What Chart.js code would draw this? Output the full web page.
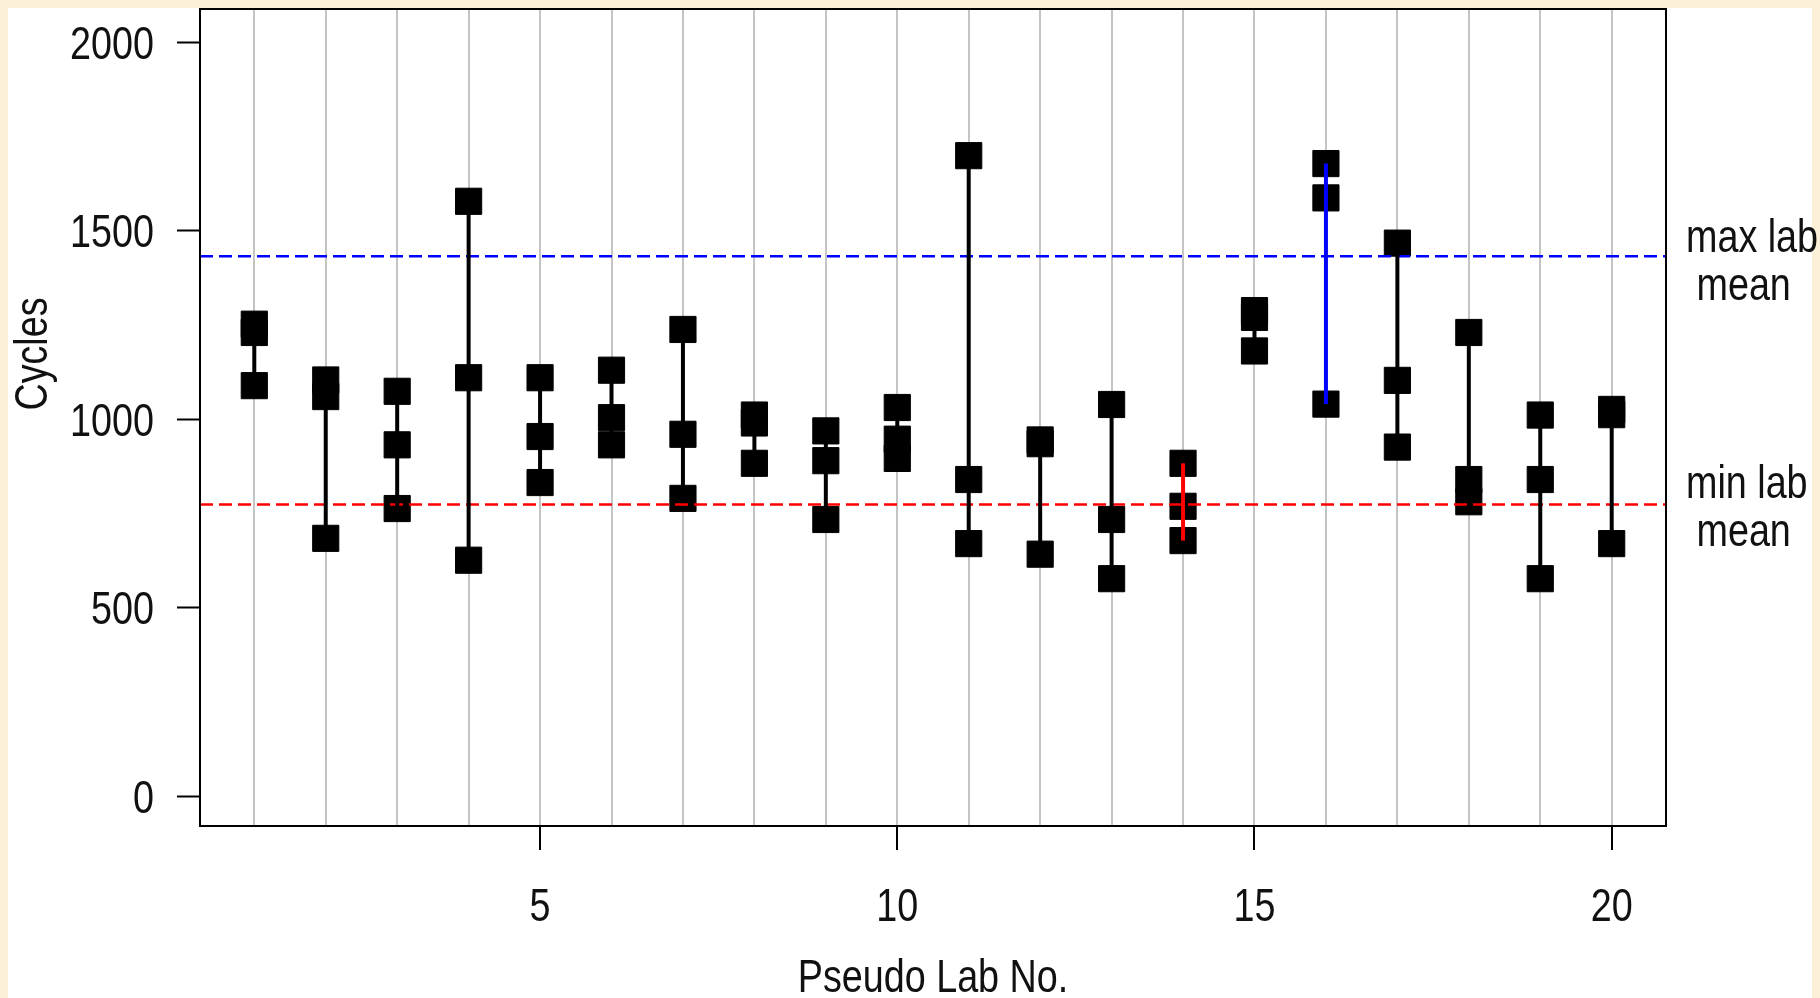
<!DOCTYPE html>
<html>
<head>
<meta charset="utf-8">
<title>Cycles by pseudo lab</title>
<script src="https://cdn.jsdelivr.net/npm/chart.js@4.4.1/dist/chart.umd.min.js"></script>
<style>
  html, body { margin: 0; padding: 0; background: #fcefd7; }
  #wrap { width: 1820px; height: 998px; }
</style>
</head>
<body>
<div id="wrap"><canvas id="chart" width="1820" height="998"></canvas></div>
<script>
var labs = [1, 2, 3, 4, 5, 6, 7, 8, 9, 10, 11, 12, 13, 14, 15, 16, 17, 18, 19, 20];
var cycles = [
    [1252, 1230, 1089],
    [1104, 1060, 684],
    [1074, 932, 763],
    [1578, 1110, 626],
    [1110, 954, 832],
    [1130, 1004, 932],
    [1238, 960, 790],
    [1011, 990, 883],
    [969, 890, 734],
    [1031, 947, 896],
    [1699, 840, 670],
    [945, 935, 642],
    [1039, 734, 577],
    [883, 769, 678],
    [1288, 1270, 1181],
    [1678, 1587, 1040],
    [1467, 1103, 926],
    [1230, 840, 781],
    [1011, 840, 577],
    [1026, 1012, 670]
];
var maxLabMean = 1432,
    minLabMean = 774,
    maxLab = 16,
    minLab = 14;
var yTicks = [0, 500, 1000, 1500, 2000];
var xTicks = [5, 10, 15, 20];

// the original uses a narrow Helvetica; squeeze Liberation Sans to match
var FONT = "46px 'Liberation Sans', Arial, sans-serif",
    SQUEEZE = 0.82;

var markerPoints = [],
    segmentPoints = [];
labs.forEach(function(lab, i) {
    var vals = cycles[i];
    vals.forEach(function(v) {
        markerPoints.push({x: lab, y: v});
    });
    segmentPoints.push({x: lab, y: Math.min.apply(null, vals)});
    segmentPoints.push({x: lab, y: Math.max.apply(null, vals)});
    segmentPoints.push({x: lab, y: null});
});

var xMin = 0.24, xMax = 20.76;

var segColor = function(lab) {
    if (lab === minLab) return '#ff0000';
    if (lab === maxLab) return '#0000ff';
    return '#000000';
};

var narrowText = function(ctx, text, x, y, align, angle) {
    ctx.save();
    ctx.translate(x, y);
    if (angle) ctx.rotate(angle);
    ctx.scale(SQUEEZE, 1);
    ctx.textAlign = align;
    ctx.textBaseline = 'alphabetic';
    ctx.fillText(text, 0, 0);
    ctx.restore();
};

var decorations = {
    id: 'decorations',
    beforeDraw: function(chart) {
        var ctx = chart.ctx;
        ctx.save();
        ctx.fillStyle = '#fcefd7';
        ctx.fillRect(0, 0, chart.width, chart.height);
        ctx.fillStyle = '#ffffff';
        ctx.fillRect(8, 8, 1804, 990);
        ctx.restore();
    },
    afterDraw: function(chart) {
        var ctx = chart.ctx,
            area = chart.chartArea,
            xs = chart.scales.x,
            ys = chart.scales.y;
        ctx.save();
        // box round the plot
        ctx.strokeStyle = '#000';
        ctx.lineWidth = 2;
        ctx.strokeRect(area.left, area.top, area.right - area.left, area.bottom - area.top);

        ctx.fillStyle = '#111';
        ctx.font = FONT;

        // tick labels, placed by the scales
        yTicks.forEach(function(v) {
            narrowText(ctx, String(v), 154, ys.getPixelForValue(v) + 16.5, 'right');
        });
        xTicks.forEach(function(v) {
            narrowText(ctx, String(v), xs.getPixelForValue(v), 921, 'center');
        });

        // margin notes
        var yMax = ys.getPixelForValue(maxLabMean),
            yMin = ys.getPixelForValue(minLabMean);
        narrowText(ctx, 'max lab', 1686, yMax - 4, 'left');
        narrowText(ctx, ' mean', 1686, yMax + 44, 'left');
        narrowText(ctx, 'min lab', 1686, yMin - 6, 'left');
        narrowText(ctx, ' mean', 1686, yMin + 42, 'left');

        // axis titles
        narrowText(ctx, 'Pseudo Lab No.', (area.left + area.right) / 2, 992, 'center');
        narrowText(ctx, 'Cycles', 47, 354, 'center', -Math.PI / 2);
        ctx.restore();
    }
};

var chart = new Chart(document.getElementById('chart'), {
    type: 'scatter',
    data: {
        datasets: [{
            type: 'line',
            label: 'range',
            data: segmentPoints,
            borderColor: '#000',
            borderWidth: 4,
            pointRadius: 0,
            spanGaps: false,
            order: 0,
            segment: {
                borderColor: function(ctx) {
                    return segColor(ctx.p0.parsed.x);
                }
            }
        }, {
            type: 'line',
            label: 'max lab mean',
            data: [{x: xMin, y: maxLabMean}, {x: xMax, y: maxLabMean}],
            borderColor: '#0000ff',
            borderWidth: 2.5,
            borderDash: [13, 6],
            pointRadius: 0,
            order: 0
        }, {
            type: 'line',
            label: 'min lab mean',
            data: [{x: xMin, y: minLabMean}, {x: xMax, y: minLabMean}],
            borderColor: '#ff0000',
            borderWidth: 2.5,
            borderDash: [13, 6],
            pointRadius: 0,
            order: 0
        }, {
            label: 'Cycles',
            data: markerPoints,
            pointStyle: 'rect',
            pointRadius: 18.5,
            pointHoverRadius: 18.5,
            backgroundColor: '#000',
            borderColor: '#000',
            borderWidth: 1,
            order: 1
        }]
    },
    options: {
        responsive: false,
        animation: false,
        devicePixelRatio: 1,
        layout: {
            autoPadding: false,
            padding: {left: 0, top: 9, right: 154, bottom: 0}
        },
        plugins: {
            legend: {display: false},
            tooltip: {enabled: false}
        },
        scales: {
            x: {
                type: 'linear',
                min: xMin,
                max: xMax,
                afterBuildTicks: function(scale) {
                    scale.ticks = labs.map(function(v) { return {value: v}; });
                },
                afterFit: function(scale) {
                    scale.height = 172;
                },
                border: {display: false},
                grid: {
                    color: '#c4c4c4',
                    lineWidth: 2,
                    tickLength: 24,
                    tickWidth: 2,
                    tickColor: function(ctx) {
                        return ctx.tick && xTicks.indexOf(ctx.tick.value) >= 0 ? '#000' : 'rgba(0,0,0,0)';
                    }
                },
                ticks: {display: false}
            },
            y: {
                type: 'linear',
                min: -79,
                max: 2088,
                afterBuildTicks: function(scale) {
                    scale.ticks = yTicks.map(function(v) { return {value: v}; });
                },
                afterFit: function(scale) {
                    scale.width = 200;
                },
                border: {display: false},
                grid: {
                    drawOnChartArea: false,
                    tickLength: 23,
                    tickWidth: 2,
                    tickColor: '#000'
                },
                ticks: {display: false}
            }
        }
    },
    plugins: [decorations]
});
</script>
</body>
</html>
